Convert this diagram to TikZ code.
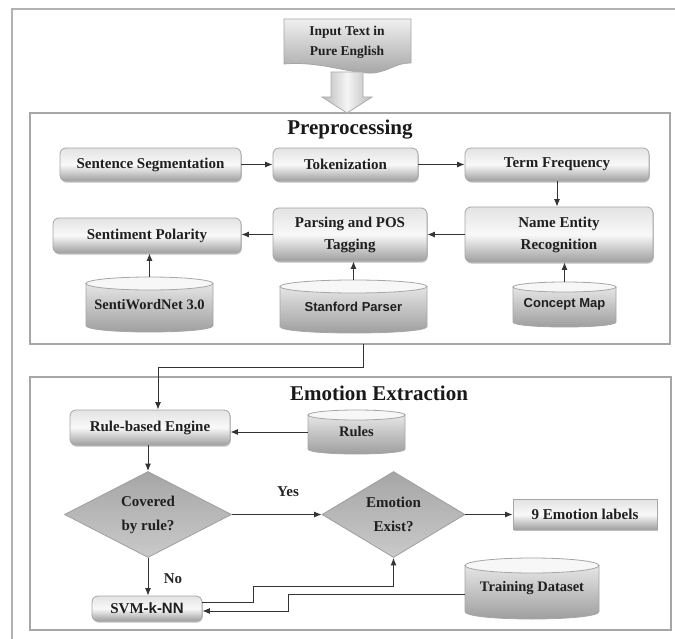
\documentclass[tikz,border=0pt]{standalone}
\usepackage{fontspec}
\setmainfont{Liberation Serif}
\newfontfamily\arialb{Liberation Sans}
\usetikzlibrary{shapes.geometric,shadows,arrows.meta}

\tikzset{
  box/.style={rounded corners=6pt, draw=gray!70, line width=0.8pt,
    top color=gray!22, bottom color=gray!75, middle color=gray!5,
    font=\rmfamily\fontsize{15}{22}\selectfont\bfseries, align=center, inner sep=2pt,
    text=black!88,
    drop shadow={shadow xshift=0.8pt, shadow yshift=-1.6pt, opacity=0.5}},
  sqbox/.style={box, rounded corners=0pt},
  dia/.style={diamond, aspect=2, inner sep=0pt, draw=gray!75, line width=0.8pt,
    top color=gray!70, bottom color=gray!42,
    font=\rmfamily\fontsize{15}{24}\selectfont\bfseries, align=center, text=black!88},
  cylbody/.style={draw=gray!70, line width=0.8pt, top color=gray!20, bottom color=gray!78},
  cyltop/.style={draw=gray!70, line width=0.8pt, fill=gray!6},
  cyltext/.style={inner sep=0pt, align=center, text=black!88},
  serift/.style={font=\rmfamily\fontsize{14.5}{18}\selectfont\bfseries},
  sanst/.style={font=\arialb\fontsize{13}{16}\selectfont\bfseries},
  frame/.style={draw=gray!70, line width=1.1pt, inner sep=0pt, outer sep=0pt},
  titl/.style={font=\rmfamily\fontsize{21}{24}\selectfont\bfseries, text=black!90},
  lbl/.style={font=\rmfamily\fontsize{15}{18}\selectfont\bfseries, text=black!85},
  arr/.style={-{Latex[length=7.5pt,width=6pt]}, line width=1pt, draw=black!80},
}

\newcommand\mycyl[8]{%
  \path[cylbody] ({#2-#4/2},{#3-#5/2+#6}) -- ({#2-#4/2},{#3+#5/2-#6})
    .. controls ({#2-#4/2},{#3+#5/2+#6/3}) and ({#2+#4/2},{#3+#5/2+#6/3}) ..
    ({#2+#4/2},{#3+#5/2-#6}) -- ({#2+#4/2},{#3-#5/2+#6}) -- cycle;
  \filldraw[cyltop] (#2,{#3-#5/2+#6}) ellipse [x radius={#4/2}, y radius=#6];
  \node[cyltext, #7, minimum width=#4pt, minimum height=#5pt] (#1) at (#2,#3) {#8};
}

\begin{document}
\begin{tikzpicture}[x=1pt,y=-1pt]
\useasboundingbox (0,0) rectangle (675,639);
\fill[white] (0,0) rectangle (675,639);

% outer frame (cut at the right and bottom)
\draw[gray!60, line width=1.5pt] (12,639) -- (12,9) -- (675,9);

% group frames
\node[frame, minimum width=640pt, minimum height=231pt] (pre) at (350,228.5) {};
\node[frame, minimum width=641pt, minimum height=253pt] (ee) at (350.5,503.5) {};
\node[titl] (pret) at (350,130) {Preprocessing};
\node[titl] (eet) at (379,393) {Emotion Extraction};

% input document
\path[draw=gray!70, line width=0.8pt, top color=gray!12, bottom color=gray!70]
  (284,19) -- (411,19) -- (411,63)
  .. controls (396,62) and (386,74) .. (368,73)
  .. controls (345,72) and (318,61) .. (284,64) -- cycle;
\node[font=\rmfamily\fontsize{13.5}{20}\selectfont\bfseries, align=center, text=black!88] (inp) at (347,42) {Input Text in\\Pure English};

% block arrow
\path[draw=gray!65, line width=0.8pt, left color=gray!55, right color=gray!55, middle color=gray!8]
  (331,72) -- (363,72) -- (363,97) -- (372,97) -- (347,113) -- (322,97) -- (331,97) -- cycle;

% preprocessing boxes
\node[box, minimum width=181pt, minimum height=33pt] (ss) at (150.5,164.5) {Sentence Segmentation};
\node[box, minimum width=145pt, minimum height=33pt] (tok) at (345.5,164.5) {Tokenization};
\node[box, minimum width=184pt, minimum height=33pt] (tf) at (557,164.5) {Term Frequency};
\node[box, minimum width=188pt, minimum height=55pt] (ner) at (559,234.5) {Name Entity\\Recognition};
\node[box, minimum width=154pt, minimum height=53pt] (pos) at (350,234.5) {Parsing and POS\\Tagging};
\node[box, minimum width=188pt, minimum height=35pt] (sp) at (147,235.5) {Sentiment Polarity};

\mycyl{swn}{149.5}{304.5}{127}{55}{6.5}{serift}{SentiWordNet 3.0}
\mycyl{stan}{353.5}{306.5}{147}{53}{6.5}{sanst}{Stanford Parser}
\mycyl{cmap}{564.5}{304.5}{103}{45}{5}{sanst}{Concept Map}

\draw[arr] (ss.east) -- (tok.west);
\draw[arr] (tok.east) -- (tf.west);
\draw[arr] (tf.south) -- (tf.south |- ner.north);
\draw[arr] (ner.west) -- (ner.west -| pos.east);
\draw[arr] (pos.west) -- (pos.west -| sp.east);
\draw[arr] (swn.north) -- (swn.north |- sp.south);
\draw[arr] (stan.north) -- (stan.north |- pos.south);
\draw[arr] (cmap.north) -- (cmap.north |- ner.south);

% emotion extraction
\node[box, minimum width=160pt, minimum height=35pt] (rbe) at (150,427.5) {Rule-based Engine};
\mycyl{rules}{356.5}{432}{97}{44}{5}{serift}{Rules}
\node[dia, minimum width=167pt, minimum height=86pt] (cov) at (148,514.5) {Covered\\by rule?};
\node[dia, minimum width=143pt, minimum height=86pt] (emo) at (393.5,514.5) {Emotion\\Exist?};
\node[sqbox, minimum width=144pt, minimum height=30pt] (lab) at (585,514.5) {9 Emotion labels};
\node[box, minimum width=110pt, minimum height=25pt] (svm) at (147,608.5) {SVM{\arialb -k-NN}};
\mycyl{td}{532}{588.5}{134}{61}{7.5}{serift}{Training Dataset}

\coordinate (j1) at (363,367);
\coordinate (j2) at (158,367);
\draw[arr] (pre.south -| j1) -- (j1) -- (j2) -- (j2 |- rbe.north);
\draw[arr] (rules.west) -- (rules.west -| rbe.east);
\draw[arr] (rbe.south -| cov.north) -- (cov.north);
\draw[arr] (cov.east) -- (emo.west);
\node[lbl] (yes) at (288,492) {Yes};
\draw[arr] (emo.east) -- (lab.west);
\draw[arr] (cov.south) -- (cov.south |- svm.north);
\node[lbl] (no) at (173,579) {No};

\coordinate (k1) at (253,602);
\coordinate (k2) at (253,586);
\draw[arr] (k1 -| svm.east) -- (k1) -- (k2) -- (k2 -| emo.south) -- (emo.south);
\coordinate (m1) at (288,594);
\coordinate (m2) at (288,611);
\draw[arr] (m1 -| td.west) -- (m1) -- (m2) -- (m2 -| svm.east);
\end{tikzpicture}
\end{document}
